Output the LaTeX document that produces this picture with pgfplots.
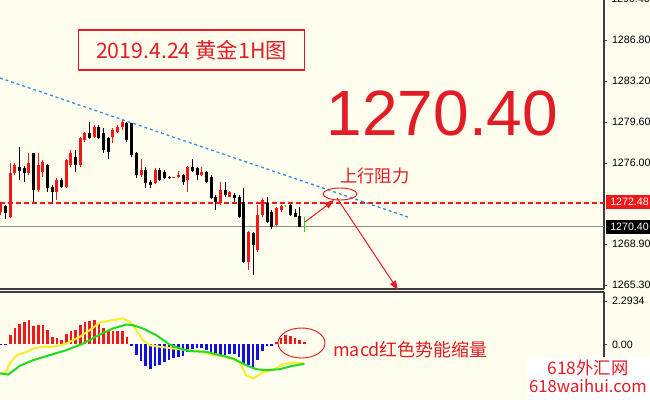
\documentclass[border=0pt]{standalone}
\usepackage{pgfplots}
\pgfplotsset{compat=1.18}
\usepackage{pgfplotstable}
\usepackage{fontspec}
\setmainfont{Liberation Sans}
\newfontfamily\cjk{Noto Sans CJK SC}
\usetikzlibrary{arrows.meta}

\definecolor{bg}{RGB}{254,253,238}
\definecolor{cred}{RGB}{240,24,24}
\definecolor{ared}{RGB}{226,28,36}
\definecolor{hblue}{RGB}{16,16,230}
\definecolor{myyel}{RGB}{245,240,40}
\definecolor{mygrn}{RGB}{30,220,30}
\definecolor{trend}{RGB}{60,140,230}
\definecolor{pline}{RGB}{140,140,140}
\definecolor{frame}{RGB}{60,60,60}

% gold 1H candles: index, open, high, low, close
\pgfplotstableread{
i o h l c
0 1271.73 1272.61 1271.44 1272.46
1 1272.23 1272.32 1271.06 1271.59
2 1271.29 1275.97 1271.15 1275.10
3 1275.10 1275.97 1274.95 1275.83
4 1275.68 1277.43 1274.51 1275.33
5 1275.53 1275.74 1274.36 1275.10
6 1275.10 1276.85 1274.95 1275.97
7 1276.85 1276.91 1272.61 1273.63
8 1273.63 1276.85 1273.49 1275.83
9 1275.24 1276.26 1274.80 1276.12
10 1275.83 1275.91 1273.49 1273.78
11 1273.93 1274.07 1272.61 1273.49
12 1273.49 1274.66 1272.76 1274.51
13 1274.51 1274.66 1273.78 1273.87
14 1273.87 1276.32 1273.78 1276.26
15 1275.83 1277.14 1275.68 1276.85
16 1276.56 1277.14 1275.24 1275.83
17 1275.83 1278.26 1275.68 1278.17
18 1278.02 1278.75 1277.87 1278.60
19 1278.60 1279.63 1278.08 1278.17
20 1278.31 1279.33 1278.17 1279.19
21 1279.19 1279.33 1278.08 1278.17
22 1278.60 1279.04 1276.85 1277.14
23 1278.17 1278.31 1276.32 1277.00
24 1278.31 1279.04 1277.72 1278.90
25 1278.75 1279.33 1278.60 1279.19
26 1279.19 1279.77 1278.90 1279.63
27 1279.48 1279.63 1277.87 1278.02
28 1279.48 1279.54 1276.56 1276.70
29 1276.85 1277.00 1274.66 1274.95
30 1274.95 1276.32 1274.80 1275.39
31 1275.39 1275.68 1273.78 1274.22
32 1274.36 1274.51 1273.78 1274.07
33 1274.22 1275.53 1274.16 1275.39
34 1275.39 1275.53 1274.45 1274.51
35 1275.24 1275.39 1274.57 1274.66
36 1274.80 1274.86 1274.60 1274.66
37 1274.72 1274.80 1274.70 1274.76
38 1274.74 1275.33 1274.68 1274.95
39 1274.95 1275.04 1274.07 1274.36
40 1274.51 1275.74 1273.49 1275.68
41 1275.68 1276.32 1275.24 1275.33
42 1275.53 1275.68 1274.51 1274.95
43 1274.95 1275.68 1274.86 1275.24
44 1275.24 1275.33 1274.22 1274.36
45 1274.80 1274.95 1272.81 1272.90
46 1273.05 1273.19 1271.88 1272.61
47 1272.46 1274.36 1272.32 1273.63
48 1273.63 1274.36 1273.05 1273.19
49 1273.05 1273.57 1272.99 1273.49
50 1273.19 1273.34 1272.61 1272.90
51 1273.05 1273.19 1271.15 1271.29
52 1272.61 1273.78 1267.20 1267.35
53 1267.35 1270.07 1266.62 1269.98
54 1269.83 1269.98 1266.18 1268.81
55 1268.37 1272.32 1268.22 1271.44
56 1271.44 1272.90 1271.29 1272.76
57 1272.46 1273.05 1270.71 1270.86
58 1271.73 1271.88 1270.18 1270.42
59 1270.56 1272.11 1270.48 1272.03
60 1271.88 1272.32 1271.73 1272.23
61 1272.23 1272.28 1272.18 1272.23
62 1272.32 1272.38 1271.38 1271.44
63 1271.59 1271.94 1271.23 1271.29
64 1271.35 1272.11 1270.36 1270.42
65 1270.40 1271.29 1269.98 1270.40
}\candles

% macd histogram
\pgfplotstableread{
i m
0 -0.05
1 -0.05
2 0.49
3 0.88
4 1.11
5 1.20
6 1.29
7 0.99
8 1.02
9 1.02
10 0.76
11 0.41
12 0.35
13 0.26
14 0.53
15 0.71
16 0.76
17 1.02
18 1.20
19 1.23
20 1.29
21 1.16
22 0.85
23 0.79
24 0.71
25 0.71
26 0.71
27 0.41
28 -0.08
29 -0.56
30 -0.88
31 -1.13
32 -1.31
33 -1.13
34 -1.06
35 -0.92
36 -0.83
37 -0.74
38 -0.65
39 -0.60
40 -0.39
41 -0.25
42 -0.18
43 -0.21
44 -0.30
45 -0.48
46 -0.60
47 -0.60
48 -0.56
49 -0.48
50 -0.48
51 -0.65
52 -1.01
53 -1.09
54 -1.23
55 -0.83
56 -0.35
57 -0.07
58 -0.07
59 0.11
60 0.35
61 0.49
62 0.46
63 0.35
64 0.23
65 0.14
}\hist

\pgfplotsset{
  panel/.style={
    scale only axis, width=453pt, xmin=-0.21, xmax=129.2,
    axis y line*=right, xtick=\empty,
    axis line style={frame, line width=0.8pt, -},
    tick align=outside, major tick length=2.5pt,
    ytick style={frame, line width=0.6pt},
    tick label style={font=\fontsize{8}{9}\selectfont, text=black},
  },
  wick/.style={draw=none, mark=none, forget plot,
    error bars/y dir=plus, error bars/y explicit, error bars/error mark=none,
    error bars/error bar style={draw=#1, line width=0.75pt, solid}},
  body/.style={draw=none, mark=none, forget plot,
    error bars/y dir=plus, error bars/y explicit, error bars/error mark=none,
    error bars/error bar style={draw=#1, line width=2.25pt, solid}},
}

\begin{document}
\begin{tikzpicture}
\useasboundingbox (0,0) rectangle (487.5pt,-300pt);
\fill[bg] (0,0) rectangle (487.5pt,-300pt);

\begin{axis}[panel, at={(0,0)}, anchor=north west, height=216.75pt,
  ymin=1264.95, ymax=1290.3, axis x line*=bottom,
  ytick={1265.3,1268.9,1276,1279.6,1283.2,1286.8},
  yticklabels={1265.30,1268.90,1276.00,1279.60,1283.20,1286.80}]

  \addplot[pline, line width=0.8pt] coordinates {(-0.21,1270.40) (129.2,1270.40)};
  \addplot[color=cred, line width=1pt, dash pattern=on 3.5pt off 2.5pt] coordinates {(-0.21,1272.48) (129.2,1272.48)};
  \addplot[color=trend, line width=1pt, dash pattern=on 2.2pt off 2.2pt] coordinates {(-0.21,1283.46) (87.2,1271.26)};

  % wicks
  \addplot[restrict expr to domain={\thisrow{c}-\thisrow{o}}{0.001:100}, wick=cred]
    table[x=i, y=l, y error plus expr={\thisrow{h}-\thisrow{l}}] {\candles};
  \addplot[restrict expr to domain={\thisrow{c}-\thisrow{o}}{-100:-0.001}, wick=black]
    table[x=i, y=l, y error plus expr={\thisrow{h}-\thisrow{l}}] {\candles};
  \addplot[restrict expr to domain={\thisrow{c}-\thisrow{o}}{-0.0005:0.0005}, wick=mygrn]
    table[x=i, y=l, y error plus expr={\thisrow{h}-\thisrow{l}}] {\candles};
  % bodies
  \addplot[restrict expr to domain={\thisrow{c}-\thisrow{o}}{0.001:100}, body=cred]
    table[x=i, y expr={min(\thisrow{o},\thisrow{c})}, y error plus expr={max(abs(\thisrow{c}-\thisrow{o}),0.07)}] {\candles};
  \addplot[restrict expr to domain={\thisrow{c}-\thisrow{o}}{-100:-0.001}, body=black]
    table[x=i, y expr={min(\thisrow{o},\thisrow{c})}, y error plus expr={max(abs(\thisrow{c}-\thisrow{o}),0.07)}] {\candles};
\end{axis}

\begin{axis}[panel, at={(0,-219pt)}, anchor=north west, height=81pt,
  ymin=-2.94, ymax=2.78, axis x line*=top,
  ytick={0,2.2934}, yticklabels={0.00,2.2934}]
  \addplot[ycomb, cred, line width=2.1pt, mark=none, restrict y to domain=0:10] table[x=i, y=m] {\hist};
  \addplot[ycomb, hblue, line width=2.1pt, mark=none, restrict y to domain=-10:0] table[x=i, y=m] {\hist};
  \addplot[myyel, line width=1.5pt] coordinates {
    (-0.21,-1.55) (0.8,-1.52) (1.2,-1.36) (1.9,-1.0) (3.4,-0.56) (5.5,-0.39) (6.9,-0.21)
    (9.1,-0.12) (11.2,-0.12) (12.6,-0.04) (14.0,0.05) (16.9,0.41) (19.0,0.76)
    (21.2,1.16) (24.0,1.29) (26.2,1.38) (27.6,1.20) (29.0,0.76) (30.4,0.23)
    (31.9,-0.04) (34.0,-0.12) (36.9,-0.21) (39.7,-0.30) (42.6,-0.35) (45.4,-0.56)
    (48.3,-0.65) (51.1,-0.92) (52.5,-1.62) (54.0,-1.80) (56.1,-1.48) (58.2,-1.36)
    (60.4,-1.06) (62.5,-0.95) (65.0,-1.0)};
  \addplot[mygrn, line width=1.5pt] coordinates {
    (-0.21,-1.53) (1.6,-1.59) (4.1,-1.12) (6.9,-0.83) (10.5,-0.56) (14.0,-0.30)
    (17.6,0.05) (21.2,0.53) (24.0,0.85) (26.9,1.06) (28.3,1.02) (30.4,0.85)
    (33.3,0.49) (36.1,0.0) (38.3,-0.21) (40.4,-0.35) (44.0,-0.39) (46.8,-0.56)
    (49.7,-0.74) (52.5,-1.09) (54.7,-1.31) (56.8,-1.36) (59.7,-1.31) (62.5,-1.13)
    (65.0,-1.02)};
\end{axis}

% annotations, in image pixels
\begin{scope}[x=0.75pt, y=-0.75pt]
  \node[anchor=west, font=\fontsize{8}{9}\selectfont, inner sep=0] at (611,-1) {1290.40};
  \node[draw=ared, line width=0.9pt, text=ared, font=\cjk\fontsize{16}{16}\selectfont,
        minimum width=170pt, minimum height=30pt, inner sep=0] at (191.5,50) {2019.4.24 黄金1H图};
  \node[text=ared, font=\fontsize{48}{48}\selectfont, inner sep=0] at (442.5,113) {1270.40};
  \node[text=ared, font=\cjk\fontsize{13}{13}\selectfont, anchor=west, inner sep=0] at (340,176) {上行阻力};
  \draw[ared, line width=0.7pt] (340,194) ellipse [x radius=12.75pt, y radius=4.5pt];
  \draw[ared, line width=0.75pt, -{Triangle[length=7pt,width=5pt]}] (305,222) -- (334,200);
  \draw[ared, line width=0.75pt, -{Triangle[length=7pt,width=5pt]}] (337,198) -- (398,290);

  \fill[cred] (606,195) rectangle (650,209);
  \node[anchor=west, text=white, font=\fontsize{8}{9}\selectfont, inner sep=0] at (610,202) {1272.48};
  \fill[black] (606,220) rectangle (650,234);
  \node[anchor=west, text=white, font=\fontsize{8}{9}\selectfont, inner sep=0] at (610,227) {1270.40};

  \draw[ared, line width=0.7pt] (301.5,343) ellipse [x radius=17.6pt, y radius=11.25pt];
  \node[text=ared, font=\cjk\fontsize{13.5}{14}\selectfont, anchor=west, inner sep=0] at (333,350) {macd红色势能缩量};

  \fill[white] (527,357) rectangle (650,400);
  \node[text=ared, font=\cjk\fontsize{13}{13}\selectfont, inner sep=0] at (588,368) {618外汇网};
  \node[text=ared, font=\cjk\fontsize{12.5}{13}\selectfont, inner sep=0] at (588,386) {618waihui.com};
\end{scope}
\end{tikzpicture}
\end{document}
